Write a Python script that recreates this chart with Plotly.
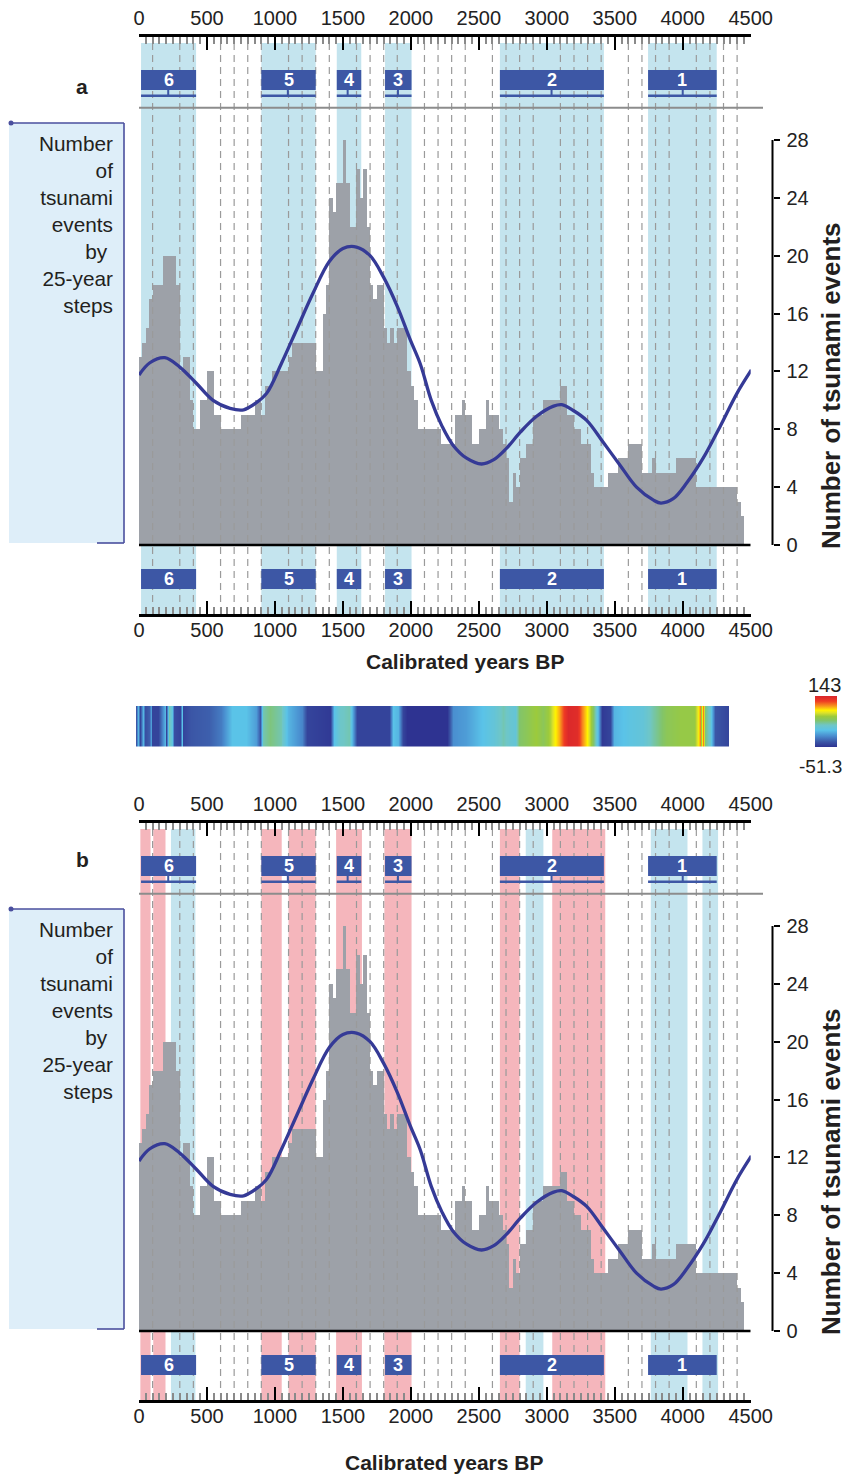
import plotly.graph_objects as go

W, H = 851, 1477
OX, OY = 8, 8  # page body margin offset
FONT = "Liberation Sans, Arial, sans-serif"

# ---------------- data ----------------
bin_width = 25
counts = [
    13, 14, 15, 17, 18, 18, 18, 20, 20, 20, 20, 18, 12, 13, 13, 10, 8, 8, 10, 10,
    12, 12, 9, 9, 8, 8, 8, 8, 8, 8, 9, 9, 9, 9, 10, 10, 9, 11, 11, 12,
    12, 12, 12, 12, 13, 14, 14, 14, 14, 14, 14, 14, 12, 12, 16, 18, 24, 23, 25, 25,
    28, 25, 22, 22, 26, 24, 26, 22, 18, 17, 18, 18, 15, 14, 15, 14, 15, 15, 15, 12,
    11, 10, 8, 8, 8, 8, 8, 8, 8, 7, 7, 7, 7, 9, 9, 10, 9, 9, 7, 7,
    8, 8, 10, 9, 9, 9, 8, 7, 6, 3, 5, 4, 6, 6, 7, 7, 9, 9, 9, 10,
    10, 10, 10, 10, 11, 11, 9, 9, 8, 8, 7, 7, 7, 5, 4, 4, 4, 4, 5, 5,
    5, 6, 6, 6, 7, 7, 7, 7, 5, 5, 5, 6, 5, 5, 5, 5, 5, 5, 6, 6,
    6, 6, 6, 6, 4, 4, 4, 4, 4, 4, 4, 4, 4, 4, 4, 4, 3, 2]
bin_start = [i * bin_width for i in range(len(counts))]

curve_years = [0, 80, 190, 300, 420, 545, 670, 770, 865, 940, 1050, 1160, 1280, 1400,
               1500, 1600, 1700, 1800, 1900, 1995, 2070, 2150, 2230, 2310, 2410, 2520,
               2610, 2705, 2805, 2925, 3050, 3110, 3195, 3295, 3415, 3540, 3660, 3785,
               3840, 3930, 4030, 4150, 4275, 4400, 4505]
curve_vals = [11.75, 12.6, 12.95, 12.3, 11.2, 10.0, 9.45, 9.35, 9.85, 10.5, 12.6, 14.9,
              17.4, 19.6, 20.5, 20.6, 20.0, 18.5, 16.5, 14.2, 12.5, 10.0, 8.2, 6.9, 6.0,
              5.6, 5.9, 6.7, 7.8, 8.9, 9.6, 9.7, 9.3, 8.6, 7.1, 5.5, 4.0, 3.1, 2.9, 3.2,
              4.3, 6.0, 8.2, 10.5, 12.1]

group_labels = ["6", "5", "4", "3", "2", "1"]
group_start = [15, 900, 1455, 1810, 2655, 3745]
group_end = [420, 1300, 1635, 2005, 3420, 4250]
group_mid = [215, 1095, 1535, 1905, 3035, 4000]

# panel b coloured periods
b_blue_start = [235, 2845, 3765, 4145]
b_blue_end = [415, 2975, 4035, 4260]
b_pink_start = [10, 105, 900, 1100, 1450, 1805, 2655, 3040]
b_pink_end = [85, 195, 1050, 1300, 1640, 2005, 2800, 3430]

guide_years = [100, 300, 400, 600, 700, 800, 900, 1100, 1200, 1300, 1400, 1600, 1700,
               1800, 1900, 2100, 2200, 2300, 2400, 2600, 2700, 2800, 2900, 3100, 3200,
               3300, 3400, 3600, 3700, 3800, 3900, 4100, 4200, 4300, 4400]

x_ticks = [0, 500, 1000, 1500, 2000, 2500, 3000, 3500, 4000, 4500]
y_ticks = [0, 4, 8, 12, 16, 20, 24, 28]

strip_pos = [0.0, 0.39, 0.71, 1.18, 1.49, 2.12, 2.52, 2.75, 3.70, 4.87, 5.11, 5.50, 6.05,
             6.45, 7.47, 7.70, 7.94, 9.20, 12.34, 14.31, 16.27, 18.63, 20.20, 20.83,
             21.38, 22.56, 24.53, 25.71, 28.07, 28.85, 32.78, 33.41, 34.36, 35.93, 36.71,
             37.34, 42.61, 43.40, 44.18, 44.97, 45.75, 52.44, 53.38, 55.58, 57.94, 60.30,
             61.87, 63.05, 63.84, 64.62, 65.80, 67.37, 68.55, 69.73, 70.52, 71.31, 71.93,
             72.88, 74.45, 75.24, 76.02, 76.65, 77.44, 77.99, 78.54, 79.95, 80.58, 83.10,
             85.46, 87.03, 89.39, 91.75, 94.10, 94.73, 95.05, 95.36, 95.68, 95.99, 96.86,
             97.64, 100.0]
strip_vals = [-31.9, 7.0, -41.6, 7.0, -35.8, -28.0, -2.7, -41.6, -41.6, 7.0, -41.6, 36.1,
              16.7, -35.8, -41.6, 12.8, -41.6, -31.9, -28.0, -16.3, 12.8, 12.8, -2.7,
              -31.9, 36.1, 45.9, 36.1, 7.0, -12.4, -41.6, -47.4, 12.8, 30.3, 36.1, -12.4,
              -41.6, -41.6, 12.8, 7.0, -41.6, -51.3, -51.3, -8.5, -2.7, 10.9, 22.5, 36.1,
              26.4, 22.5, 49.7, 55.6, 65.3, 55.6, 69.2, 84.7, 100.3, 120.0, 140.0, 136.0,
              108.0, 88.6, 65.3, 36.1, 7.0, -47.4, -41.6, 7.0, 16.7, 22.5, 36.1, 55.6,
              61.4, 61.4, 84.7, 108.0, 65.3, 108.0, 45.9, 26.4, -31.9, -41.6]
strip_min, strip_max = -51.3, 143

# ---------------- style ----------------
GRAY_BAR = "#9da1a8"
CURVE = "#353a96"
BAND_BLUE = "#c4e4ee"
BAND_PINK = "#f5b6bc"
BOX_BLUE = "#3d57a5"
BOX_LINE = "#4a4f9e"
TXT = "#231f20"


def pxx(x):
    return (x - OX) / W


def pxy(y):
    return 1 - (y - OY) / H


fig = go.Figure()
shapes = []
annotations = []
layout = {}


def ann(x, y, text, size, **kw):
    d = dict(x=pxx(x), y=pxy(y), xref="paper", yref="paper", text=text, showarrow=False,
             xanchor="center", yanchor="middle", font=dict(size=size, color=TXT, family=FONT))
    d.update(kw)
    annotations.append(d)


def add_panel(off, xa, xa_top, ya, xname, xname_top, yname, panel_letter, letter_y,
              title_x, title_y, blue_bands, pink_bands):
    top_line, bot_line = 37 + off, 614 + off
    zero, t28 = 545 + off, 140 + off
    per = 28.0 / (zero - t28)

    def val(p):
        return (zero - p) * per

    lo, hi = val(bot_line), val(top_line)
    band_top = val(43 + off)

    # bars
    fig.add_trace(go.Bar(x=[s + bin_width / 2 for s in bin_start], y=counts,
                         width=bin_width, marker=dict(color=GRAY_BAR, line=dict(width=0)),
                         xaxis=xname, yaxis=yname, showlegend=False, hoverinfo="skip"))
    # dashed guides
    gx, gy = [], []
    for g in guide_years:
        gx += [g, g, None]
        gy += [lo, band_top, None]
    fig.add_trace(go.Scatter(x=gx, y=gy, mode="lines",
                             line=dict(color="#9a9a9a", width=1.2, dash="7px,5px"),
                             xaxis=xname, yaxis=yname, showlegend=False, hoverinfo="skip"))
    # curve
    fig.add_trace(go.Scatter(x=curve_years, y=curve_vals, mode="lines",
                             line=dict(color=CURVE, width=3.3, shape="spline", smoothing=1.0),
                             xaxis=xname, yaxis=yname, showlegend=False))
    # invisible trace on the top axis so it is drawn
    fig.add_trace(go.Scatter(x=[0, 4500], y=[lo, lo], mode="markers",
                             marker=dict(size=1, opacity=0), xaxis=xname_top, yaxis=yname,
                             showlegend=False, hoverinfo="skip"))

    common_x = dict(range=[0, 4500], showline=True, linecolor="black", linewidth=2.5,
                    tickmode="array", tickvals=x_ticks, ticks="inside", ticklen=13,
                    tickwidth=2, tickcolor="black", showgrid=False, zeroline=False,
                    automargin=False,
                    tickfont=dict(size=20, color="#222", family=FONT),
                    minor=dict(dtick=50, tick0=0, ticks="inside", ticklen=7,
                               tickwidth=1.5, tickcolor="#8a8a8a", showgrid=False))
    layout[xa] = dict(domain=[pxx(139), pxx(750.7)], anchor=yname, side="bottom",
                      ticklabelstandoff=-4, **common_x)
    layout[xa_top] = dict(overlaying=xname, side="top", anchor=yname,
                          ticklabelstandoff=1, **common_x)
    layout[ya] = dict(domain=[pxy(bot_line), pxy(top_line)], range=[lo, hi],
                      anchor="free", position=pxx(772.5), side="right", automargin=False,
                      tickmode="array", tickvals=y_ticks, ticks="outside", ticklen=6,
                      tickwidth=1.5, tickcolor="black", showline=False, showgrid=False,
                      zeroline=False, ticklabelstandoff=3,
                      tickfont=dict(size=20, color="#222", family=FONT))

    # bands
    for s, e in blue_bands:
        shapes.append(dict(type="rect", xref=xname, yref=yname, x0=s, x1=e, y0=lo, y1=band_top,
                           fillcolor=BAND_BLUE, line=dict(width=0), layer="below"))
    for s, e in pink_bands:
        shapes.append(dict(type="rect", xref=xname, yref=yname, x0=s, x1=e, y0=lo, y1=band_top,
                           fillcolor=BAND_PINK, line=dict(width=0), layer="below"))

    # period boxes (top with bracket line, bottom plain)
    for lab, s, e, m in zip(group_labels, group_start, group_end, group_mid):
        for (bt, bb) in [(70 + off, 90 + off), (569 + off, 589 + off)]:
            shapes.append(dict(type="rect", xref=xname, yref=yname, x0=s, x1=e,
                               y0=val(bb), y1=val(bt), fillcolor=BOX_BLUE,
                               line=dict(width=0), layer="above"))
            annotations.append(dict(x=(s + e) / 2, y=val((bt + bb) / 2), xref=xname,
                                    yref=yname, text="<b>%s</b>" % lab, showarrow=False,
                                    xanchor="center", yanchor="middle",
                                    font=dict(size=18, color="white", family=FONT)))
        shapes.append(dict(type="line", xref=xname, yref=yname, x0=s, x1=e,
                           y0=val(95.7 + off), y1=val(95.7 + off),
                           line=dict(color=BOX_BLUE, width=2.5), layer="above"))
        shapes.append(dict(type="line", xref=xname, yref=yname, x0=m, x1=m,
                           y0=val(90 + off), y1=val(95.7 + off),
                           line=dict(color=BOX_BLUE, width=2), layer="above"))

    # gray separator
    shapes.append(dict(type="line", xref="paper", yref=yname, x0=pxx(139), x1=pxx(763),
                       y0=val(107.7 + off), y1=val(107.7 + off),
                       line=dict(color="#8c8c8c", width=2), layer="above"))
    # zero baseline
    shapes.append(dict(type="line", xref=xname, yref=yname, x0=0, x1=4500, y0=0, y1=0,
                       line=dict(color="black", width=2.5), layer="above"))
    # right axis line
    shapes.append(dict(type="line", xref="paper", yref=yname, x0=pxx(772.5), x1=pxx(772.5),
                       y0=0, y1=28, line=dict(color="black", width=2), layer="above"))

    # left descriptive box
    shapes.append(dict(type="rect", xref="paper", yref="paper", x0=pxx(9), x1=pxx(124),
                       y0=pxy(543 + off), y1=pxy(123 + off), fillcolor="#deeef9",
                       line=dict(width=0), layer="below"))
    for (x0, y0, x1, y1) in [(11, 123, 124, 123), (124, 123, 124, 543), (97, 543, 124, 543)]:
        shapes.append(dict(type="line", xref="paper", yref="paper", x0=pxx(x0), x1=pxx(x1),
                           y0=pxy(y0 + off), y1=pxy(y1 + off),
                           line=dict(color=BOX_LINE, width=1.6), layer="above"))
    shapes.append(dict(type="circle", xref="paper", yref="paper", x0=pxx(8.5), x1=pxx(13.5),
                       y0=pxy(125.5 + off), y1=pxy(120.5 + off), fillcolor=BOX_LINE,
                       line=dict(width=0), layer="above"))
    ann(114.5, 129.5 + off,
        "Number<br>of<br>tsunami<br>events<br>by\u00a0<br>25-year<br>steps", 20.8,
        xanchor="right", yanchor="top", align="right")

    ann(82, letter_y, "<b>%s</b>" % panel_letter, 21)
    ann(title_x, title_y, "<b>Calibrated years BP</b>", 21)
    ann(831, 386 + off, "<b>Number of tsunami events</b>", 26, textangle=-90)


add_panel(0, "xaxis", "xaxis2", "yaxis", "x", "x2", "y", "a", 86, 465, 661,
          list(zip(group_start, group_end)), [])
add_panel(786, "xaxis3", "xaxis4", "yaxis2", "x3", "x4", "y2", "b", 859, 444, 1462,
          list(zip(b_blue_start, b_blue_end)), list(zip(b_pink_start, b_pink_end)))

# colour strip
colorscale = [
    [0.00, "#2e3391"], [0.10, "#3b56a6"], [0.22, "#4a8fd0"], [0.33, "#5ac3e8"],
    [0.43, "#6fc6c6"], [0.52, "#82c46a"], [0.60, "#9cca3c"], [0.67, "#dde22a"],
    [0.72, "#fff200"], [0.80, "#f8981d"], [0.90, "#ee3a24"], [1.00, "#d8262c"]]
fig.add_trace(go.Heatmap(x=strip_pos, y=[0, 1], z=[strip_vals, strip_vals],
                         zmin=strip_min, zmax=strip_max, colorscale=colorscale,
                         zsmooth="best", xaxis="x5", yaxis="y3", hoverinfo="skip",
                         colorbar=dict(x=pxx(814.5), xanchor="left", y=pxy(721.5),
                                       yanchor="middle", len=51, lenmode="pixels",
                                       thickness=22, thicknessmode="pixels", xpad=0, ypad=0,
                                       showticklabels=False, ticks="", outlinewidth=0)))
layout["xaxis5"] = dict(domain=[pxx(136), pxx(729)], range=[0, 100], anchor="y3",
                        visible=False, fixedrange=True)
layout["yaxis3"] = dict(domain=[pxy(746.5), pxy(706)], range=[0, 1], anchor="x5",
                        visible=False, fixedrange=True)
ann(824, 685, "143", 20)
ann(820, 766, "-51.3", 19)

fig.update_layout(template="none", width=W, height=H, autosize=False,
                  margin=dict(l=0, r=0, t=0, b=0, pad=0),
                  paper_bgcolor="white", plot_bgcolor="rgba(0,0,0,0)",
                  bargap=0, showlegend=False, shapes=shapes, annotations=annotations,
                  font=dict(family=FONT, color=TXT), **layout)

fig.write_html("out.html")
